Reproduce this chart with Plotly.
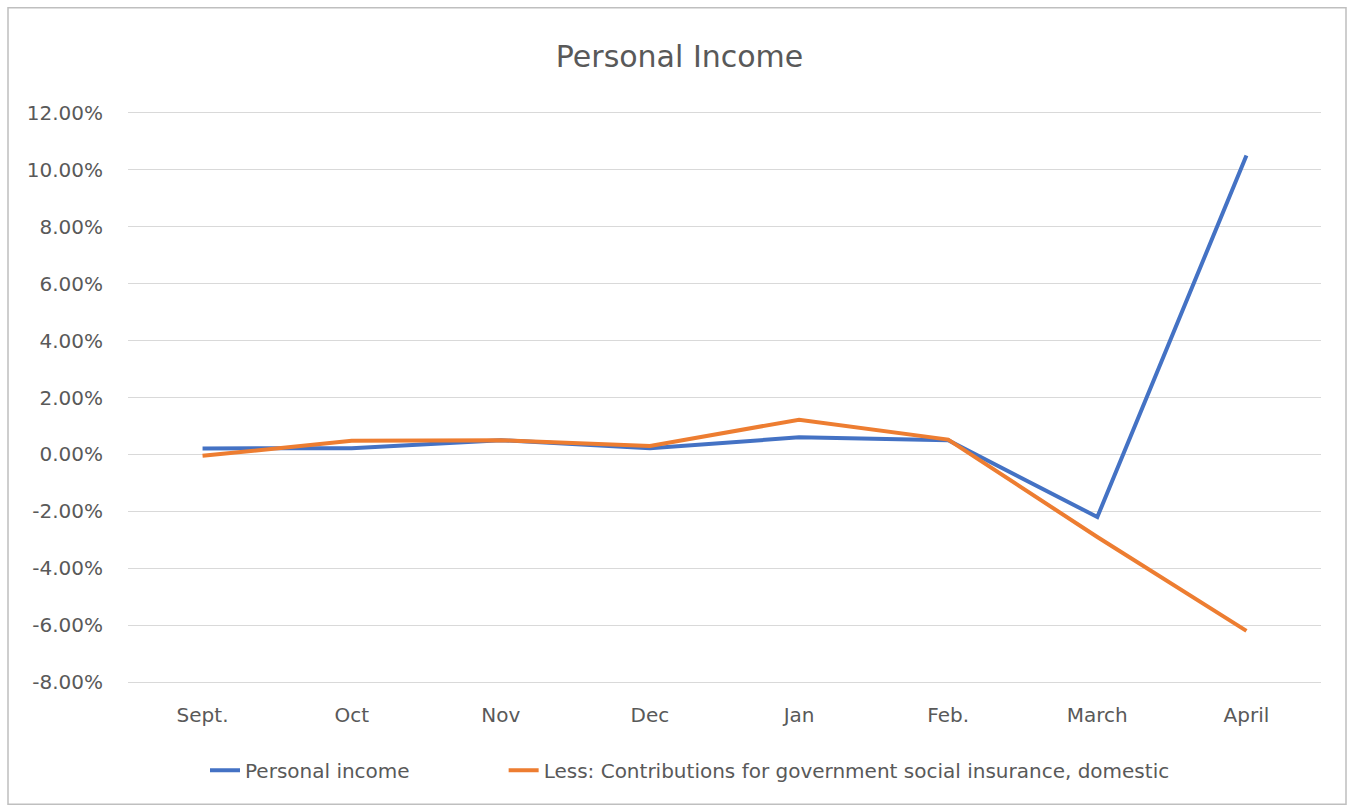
import plotly.graph_objects as go

months = ["Sept.", "Oct", "Nov", "Dec", "Jan", "Feb.", "March", "April"]
personal_income = [0.0021, 0.0022, 0.0050, 0.0022, 0.0060, 0.0050, -0.0220, 0.1050]
less_contrib = [-0.0005, 0.0048, 0.0050, 0.0030, 0.0122, 0.0052, -0.0290, -0.0620]
y_ticks = [-0.08, -0.06, -0.04, -0.02, 0.0, 0.02, 0.04, 0.06, 0.08, 0.10, 0.12]
y_tick_labels = ["-8.00%", "-6.00%", "-4.00%", "-2.00%", "0.00%", "2.00%", "4.00%",
                 "6.00%", "8.00%", "10.00%", "12.00%"]
series_names = ["Personal income", "Less: Contributions for government social insurance, domestic"]

W, H = 1351, 808
PX_PER_UNIT = 569 / 0.20
PAD = 0.001
L, R = 128, 30
T = 113 - PAD * PX_PER_UNIT
B = 126 - PAD * PX_PER_UNIT
pw, ph = W - L - R, H - T - B

font = "'DejaVu Sans', sans-serif"
gray = "#595959"

fig = go.Figure()
fig.add_trace(go.Scatter(x=months, y=personal_income, mode="lines",
                         name=series_names[0] + "\u00a0" * 14,
                         line=dict(color="#4472C4", width=4)))
fig.add_trace(go.Scatter(x=months, y=less_contrib, mode="lines",
                         name=series_names[1],
                         line=dict(color="#ED7D31", width=4)))

def px_x(x):
    return (x - L) / pw

def px_y(y):
    return (H - B - y) / ph

fig.update_layout(
    width=W, height=H,
    margin=dict(l=L, r=R, t=T, b=B),
    paper_bgcolor="white", plot_bgcolor="white",
    title=dict(text="Personal Income", x=0.503, xanchor="center", y=1 - 56 / H, yanchor="middle",
               font=dict(family=font, size=30, color=gray)),
    font=dict(family=font, size=20, color=gray),
    showlegend=True,
    legend=dict(orientation="h", x=px_x(205), xanchor="left", y=px_y(770), yanchor="middle",
                font=dict(family=font, size=20, color=gray), traceorder="normal"),
    xaxis=dict(type="category", range=[-0.5, 7.5], showgrid=False, zeroline=False,
               showline=False, ticks="", tickfont=dict(size=20, color=gray), ticklabelstandoff=16),
    yaxis=dict(range=[-0.08 - PAD, 0.12 + PAD], tickvals=y_ticks, ticktext=y_tick_labels,
               showgrid=True, gridcolor="#d9d9d9", gridwidth=1.3, zeroline=False, showline=False,
               ticks="", tickfont=dict(size=20, color=gray), ticklabelstandoff=24),
    shapes=[dict(type="rect", xref="paper", yref="paper",
                 x0=px_x(8), x1=px_x(1346), y0=px_y(804), y1=px_y(8),
                 line=dict(color="#bfbfbf", width=1.5), fillcolor="rgba(0,0,0,0)", layer="below")],
)

fig.write_html("out.html")
